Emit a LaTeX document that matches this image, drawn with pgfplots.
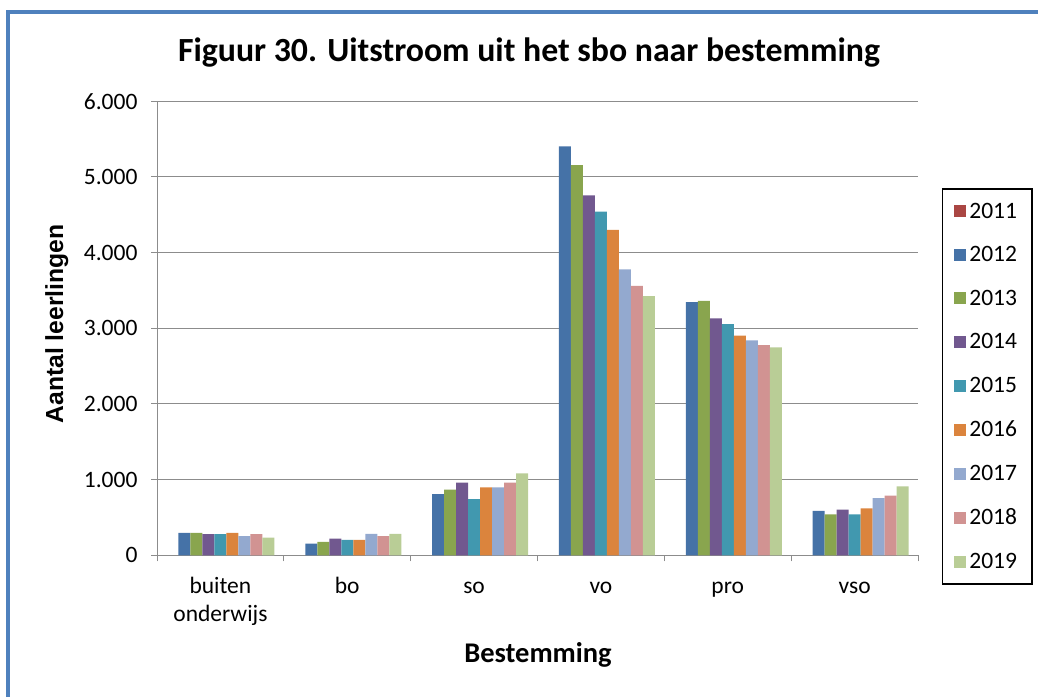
\documentclass[border=0pt]{standalone}
\usepackage{fontspec}
\setmainfont{Carlito}
\newfontfamily\arialb{Liberation Sans}[BoldFont={* Bold}]
\usepackage{pgfplots}
\pgfplotsset{compat=1.18}
\definecolor{c2011}{HTML}{AA4643}
\definecolor{c2012}{HTML}{4572A7}
\definecolor{c2013}{HTML}{89A54E}
\definecolor{c2014}{HTML}{71588F}
\definecolor{c2015}{HTML}{4198AF}
\definecolor{c2016}{HTML}{DB843D}
\definecolor{c2017}{HTML}{93A9CF}
\definecolor{c2018}{HTML}{D19392}
\definecolor{c2019}{HTML}{B9CD96}
\definecolor{frame}{HTML}{4F81BD}
\definecolor{gridc}{HTML}{8C8C8C}
\begin{document}
\begin{tikzpicture}[x=1bp,y=1bp]
\path[use as bounding box] (0,0) rectangle (1038,697);
\draw[frame, line width=3.5bp] (8,0) -- (8,685) -- (1038,685);
\node[anchor=base, font=\fontsize{33.8bp}{38bp}\selectfont\bfseries] at (529,635) {Figuur 30. Uitstroom uit het sbo naar bestemming};
\node[anchor=base, font=\fontsize{28.5bp}{32bp}\selectfont\bfseries] at (538,34) {Bestemming};
\node[anchor=base, rotate=90, font=\arialb\fontsize{24.7bp}{28bp}\selectfont\bfseries] at (63,373) {Aantal leerlingen};
\begin{axis}[
  at={(157bp,141.7bp)}, anchor=south west, scale only axis,
  width=761bp, height=454bp,
  xmin=-0.5, xmax=5.5, ymin=0, ymax=6000,
  axis x line*=bottom, axis y line*=left,
  axis line style={gridc, line width=1bp},
  ytick={0,1000,...,6000},
  ymajorgrids, grid style={gridc, line width=1bp},
  xtick={0,...,5},
  xticklabels={{\strut buiten\\onderwijs},\strut bo,\strut so,\strut vo,\strut pro,\strut vso},
  minor xtick={-0.5,0.5,...,5.5},
  major x tick style={draw=none},
  minor x tick style={gridc, line width=1bp},
  y tick style={gridc, line width=1bp},
  tick align=outside,
  major tick length=6bp, minor tick length=6bp,
  xticklabel style={align=center, font=\fontsize{23.5bp}{28bp}\selectfont, yshift=-9bp},
  yticklabel style={font=\fontsize{23.5bp}{28bp}\selectfont, xshift=-10bp},
  /pgf/number format/.cd, 1000 sep={.}, assume math mode=true,
  /pgfplots/.cd,
  bar width=12bp,
  legend style={at={(1.031,0.809)}, anchor=north west, draw=black, line width=1.5bp,
    font=\fontsize{23.5bp}{28bp}\selectfont, row sep=22.9bp, inner xsep=12bp, inner ysep=12bp,
    nodes={inner xsep=3bp}},
  legend cell align=left,
  legend image code/.code={\path[#1,draw=none] (0bp,-6bp) rectangle (12bp,6bp);},
]
\addlegendimage{fill=c2011}
\addlegendentry{2011}
\addplot[ybar, fill=c2012, draw=none, bar shift=-36bp] coordinates {(0,296) (1,155) (2,810) (3,5405) (4,3347) (5,588)};
\addlegendentry{2012}
\addplot[ybar, fill=c2013, draw=none, bar shift=-24bp] coordinates {(0,296) (1,177) (2,867) (3,5158) (4,3364) (5,540)};
\addlegendentry{2013}
\addplot[ybar, fill=c2014, draw=none, bar shift=-12bp] coordinates {(0,279) (1,221) (2,960) (3,4758) (4,3131) (5,602)};
\addlegendentry{2014}
\addplot[ybar, fill=c2015, draw=none, bar shift=0bp] coordinates {(0,279) (1,204) (2,743) (3,4543) (4,3056) (5,540)};
\addlegendentry{2015}
\addplot[ybar, fill=c2016, draw=none, bar shift=12bp] coordinates {(0,296) (1,204) (2,898) (3,4301) (4,2902) (5,619)};
\addlegendentry{2016}
\addplot[ybar, fill=c2017, draw=none, bar shift=24bp] coordinates {(0,252) (1,283) (2,898) (3,3777) (4,2841) (5,757)};
\addlegendentry{2017}
\addplot[ybar, fill=c2018, draw=none, bar shift=36bp] coordinates {(0,279) (1,252) (2,960) (3,3562) (4,2779) (5,788)};
\addlegendentry{2018}
\addplot[ybar, fill=c2019, draw=none, bar shift=48bp] coordinates {(0,235) (1,283) (2,1084) (3,3426) (4,2748) (5,912)};
\addlegendentry{2019}
\end{axis}
\end{tikzpicture}
\end{document}
